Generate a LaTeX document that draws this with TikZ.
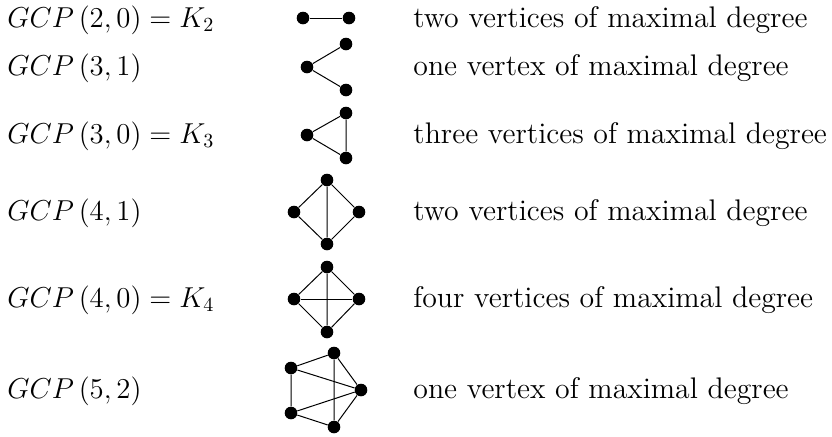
\documentclass[tikz,border=0pt]{standalone}
\usepackage{amsmath}
\usepackage{tikz}

\tikzset{
  vtx/.style={circle,fill,inner sep=0pt,minimum size=6.3pt},
  edg/.style={line width=0.5pt},
  lbl/.style={anchor=base west,inner sep=0pt,font=\fontsize{14.9}{17}\selectfont},
}

\begin{document}
\begin{tikzpicture}[x=0.5pt,y=-0.5pt]
        % Rahmen
        \useasboundingbox (0,0) rectangle (832,436);

        % Bezeichnungen
        \node[lbl] (l1) at (7,27)  {\(GCP\left(2,0\right)=K_2\)};
        \node[lbl] (l2) at (7,75)  {\(GCP\left(3,1\right)\)};
        \node[lbl] (l3) at (7,143) {\(GCP\left(3,0\right)=K_3\)};
        \node[lbl] (l4) at (7,220) {\(GCP\left(4,1\right)\)};
        \node[lbl] (l5) at (7,307) {\(GCP\left(4,0\right)=K_4\)};
        \node[lbl] (l6) at (7,398) {\(GCP\left(5,2\right)\)};

        \node[lbl] (d1) at (413,27)  {two vertices of maximal degree};
        \node[lbl] (d2) at (413,75)  {one vertex of maximal degree};
        \node[lbl] (d3) at (413,143) {three vertices of maximal degree};
        \node[lbl] (d4) at (413,220) {two vertices of maximal degree};
        \node[lbl] (d5) at (413,307) {four vertices of maximal degree};
        \node[lbl] (d6) at (413,398) {one vertex of maximal degree};

        % K_2
        \node[vtx] (a1) at (303,18) {};
        \node[vtx] (a2) at (349,18) {};
        \draw[edg] (a1)--(a2);

        % Pfad
        \node[vtx] (b1) at (346,44) {};
        \node[vtx] (b2) at (307,67) {};
        \node[vtx] (b3) at (346,90) {};
        \draw[edg] (b1)--(b2)--(b3);

        % K_3
        \node[vtx] (c1) at (346,113) {};
        \node[vtx] (c2) at (307,135) {};
        \node[vtx] (c3) at (346,158) {};
        \draw[edg] (c1)--(c2)--(c3)--(c1);

        % Raute mit Diagonale
        \node[vtx] (e1) at (327,180) {};
        \node[vtx] (e2) at (294,212) {};
        \node[vtx] (e3) at (327,244) {};
        \node[vtx] (e4) at (359,212) {};
        \draw[edg] (e1)--(e2)--(e3)--(e4)--(e1)--(e3);

        % K_4
        \node[vtx] (f1) at (327,267) {};
        \node[vtx] (f2) at (294,299) {};
        \node[vtx] (f3) at (327,332) {};
        \node[vtx] (f4) at (359,299) {};
        \draw[edg] (f1)--(f2)--(f3)--(f4)--(f1)--(f3);
        \draw[edg] (f2)--(f4);

        % Fuenfeck
        \node[vtx] (g1) at (334,353) {};
        \node[vtx] (g2) at (291,368) {};
        \node[vtx] (g3) at (291,413) {};
        \node[vtx] (g4) at (334,427) {};
        \node[vtx] (g5) at (361,390) {};
        \draw[edg] (g1)--(g2)--(g3)--(g4)--(g5)--(g1)--(g4);
        \draw[edg] (g2)--(g5)--(g3);
      \end{tikzpicture}
\end{document}
